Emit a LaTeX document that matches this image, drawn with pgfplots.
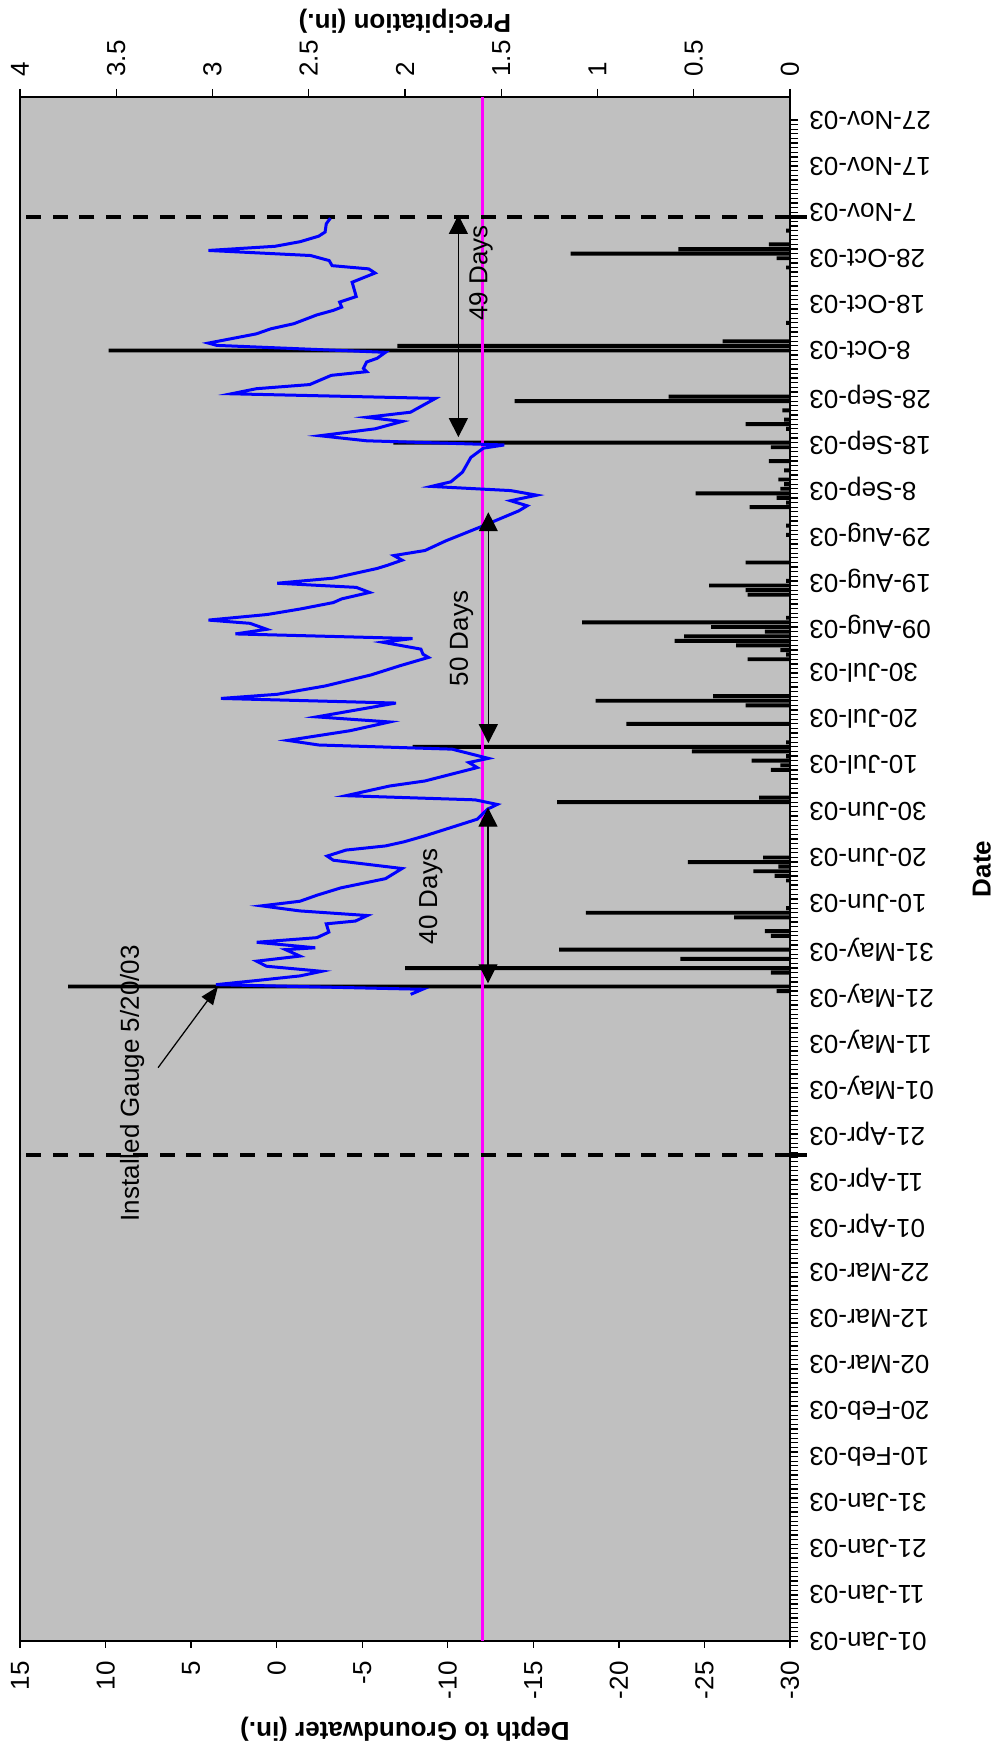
\documentclass[border=0pt]{standalone}
\usepackage{fontspec}
\setmainfont{Liberation Sans}
\usepackage{graphicx}
\usepackage{pgfplots}
\pgfplotsset{compat=1.18}
\usetikzlibrary{arrows.meta}
\definecolor{bg}{RGB}{192,192,192}
\definecolor{mag}{RGB}{255,0,255}
\definecolor{blu}{RGB}{0,0,255}
\newcommand\f{\fontsize{10.4}{12.5}\selectfont}
\begin{document}
\rotatebox{90}{%
\begin{tikzpicture}
\path[use as bounding box] (0,0) rectangle (700pt,400.8pt);
% secondary axis: precipitation bars + date axis
\begin{axis}[
  at={(43.6pt,84.8pt)}, anchor=south west,
  scale only axis, width=617.6pt, height=308pt,
  xmin=0, xmax=335, ymin=0, ymax=4,
  axis background/.style={fill=bg},
  axis x line*=bottom, axis y line*=right,
  axis line style={-, line width=0.5pt},
  xtick={0,10,...,330},
  xticklabels={01-Jan-03,11-Jan-03,21-Jan-03,31-Jan-03,10-Feb-03,20-Feb-03,02-Mar-03,12-Mar-03,22-Mar-03,01-Apr-03,11-Apr-03,21-Apr-03,01-May-03,11-May-03,21-May-03,31-May-03,10-Jun-03,20-Jun-03,30-Jun-03,10-Jul-03,20-Jul-03,30-Jul-03,09-Aug-03,19-Aug-03,29-Aug-03,8-Sep-03,18-Sep-03,28-Sep-03,8-Oct-03,18-Oct-03,28-Oct-03,7-Nov-03,17-Nov-03,27-Nov-03},
  minor x tick num=9,
  ytick={0,0.5,...,4},
  tick align=outside,
  major tick length=3.2pt, minor tick length=3.2pt,
  tick style={black, line width=0.5pt},
  /pgf/number format/assume math mode=true,
  x tick label style={rotate=90, anchor=east, inner sep=0pt, font=\f},
  xticklabel shift=4.4pt,
  y tick label style={inner sep=0pt, font=\f},
  yticklabel shift=4.8pt,
  xlabel={Date}, ylabel={Precipitation (in.)},
  xlabel style={font=\f\bfseries, at={(axis description cs:0.5,-0.249)}, anchor=center},
  ylabel style={font=\f\bfseries, at={(axis description cs:1.0492,0.5)}, anchor=center, rotate=0},
]
\addplot[ybar, bar width=0.85, fill=black, draw=none] coordinates {
(141,0.07) (142,3.75) (145,0.10) (146,2.00) (148,0.57) (150,1.20) (153,0.10) (154,0.13)
(157,0.29) (158,1.06) (159,0.02) (165,0.02) (166,0.08) (167,0.19) (168,0.06) (169,0.53)
(170,0.14) (182,1.21) (183,0.16) (189,0.10) (190,0.05) (191,0.20) (192,0.02) (193,0.51)
(194,1.96) (195,0.02) (199,0.85) (203,0.23) (204,1.01) (205,0.40) (213,0.22) (214,0.02)
(215,0.05) (216,0.28) (217,0.60) (218,0.55) (219,0.13) (220,0.41) (221,1.08) (222,0.02)
(227,0.22) (228,0.23) (229,0.42) (230,0.02) (234,0.23) (240,0.02) (242,0.02) (246,0.21)
(247,0.02) (248,0.07) (249,0.49) (250,0.05) (251,0.03) (252,0.06) (254,0.03) (256,0.11)
(259,0.10) (260,2.06) (263,0.02) (264,0.23) (265,0.03) (267,0.04) (269,1.43) (270,0.63)
(280,3.54) (281,2.04) (282,0.35) (286,0.02) (298,0.02) (300,0.07) (301,1.14) (302,0.58)
(303,0.11) (306,0.02)
};
\end{axis}
% primary axis: depth to groundwater
\begin{axis}[
  at={(43.6pt,84.8pt)}, anchor=south west,
  scale only axis, width=617.6pt, height=308pt,
  xmin=0, xmax=335, ymin=-30, ymax=15,
  axis line style={line width=0.5pt},
  xtick=\empty,
  ytick={-30,-25,...,15}, ytick pos=left,
  tick align=outside, major tick length=2.8pt,
  tick style={black, line width=0.5pt},
  /pgf/number format/assume math mode=true,
  y tick label style={inner sep=0pt, font=\f},
  yticklabel shift=5.2pt,
  ylabel={Depth to Groundwater (in.)},
  ylabel style={font=\f\bfseries, at={(axis description cs:-0.0570,0.5)}, anchor=center},
  clip=false,
]
\addplot[mag, line width=1.2pt] coordinates {(0,-12) (335,-12)};
\addplot[black, line width=1.6pt, dash pattern=on 6pt off 4.7pt] coordinates {(105.4,-30) (105.4,15)};
\addplot[black, line width=1.6pt, dash pattern=on 6pt off 4.7pt] coordinates {(308.9,-30) (308.9,15)};
\addplot[black, line width=1.6pt] coordinates {(105.4,-30) (105.4,-31)};
\addplot[black, line width=1.6pt] coordinates {(308.9,-30) (308.9,-31)};
\addplot[blu, line width=1.2pt] coordinates {
(140.3,-7.83) (141.4,-8.53) (142.4,3.55) (143.3,1.17) (144.3,-1.36) (145.3,-2.63) (146.4,0.6)
(147.5,1.17) (148.6,-1.36) (150.0,-0.52) (150.4,-2.26) (151.6,1.17) (152.6,-2.35) (153.8,-3.05)
(155.6,-2.9) (156.2,-4.6) (157.4,-5.3) (158.4,-1.36) (159.5,0.88) (160.5,-1.36) (161.8,-2.35)
(163.4,-3.75) (165.4,-6.36) (167.6,-7.33) (169.4,-3.31) (170.3,-2.95) (171.6,-4.05) (172.5,-6.36)
(173.4,-7.45) (174.7,-8.67) (177.0,-10.62) (178.3,-11.72) (180.5,-12.33) (181.5,-12.89) (182.5,-11.6)
(183.4,-4.05) (185.5,-6.6) (186.6,-8.67) (189.5,-11.72) (190.6,-11.23) (191.5,-12.37) (193.5,-10.25)
(194.4,-2.46) (195.4,-0.64) (197.5,-4.29) (199.4,-6.6) (200.5,-2.34) (203.5,-6.97) (204.5,3.26)
(205.4,-0.03) (207.2,-2.83) (209.6,-5.51) (211.6,-7.21) (213.4,-8.87) (214.1,-8.55) (215.2,-8.43)
(216.7,-6.19) (217.5,-7.94) (218.5,2.41) (219.5,0.58) (220.8,1.56) (221.5,3.99) (222.7,0.58)
(223.9,-1.37) (225.3,-3.31) (226.1,-3.8) (227.5,-5.43) (228.6,-4.65) (229.5,-0.03) (230.6,-3.31)
(232.7,-5.87) (233.4,-6.48) (234.5,-7.33) (235.5,-6.85) (236.6,-8.67) (238.7,-9.89) (241.6,-11.84)
(245.2,-14.15) (246.3,-14.64) (247.4,-13.67) (248.6,-15.2) (249.6,-13.67) (250.5,-9.04) (251.5,-10.18)
(253.6,-10.86) (256.8,-11.35) (258.8,-12.08) (259.5,-13.3) (260.4,-5.26) (261.5,-2.53) (263.0,-5.75)
(264.6,-7.33) (265.5,-5.26) (266.6,-7.82) (269.6,-9.28) (270.6,2.65) (271.7,1.19) (272.6,-1.93)
(274.6,-3.19) (275.4,-5.26) (276.1,-5.07) (277.5,-5.26) (278.3,-5.87) (279.6,-6.36) (281.1,3.5)
(281.6,3.99) (283.6,1.19) (284.7,0.34) (285.8,-1.0) (287.7,-2.34) (288.7,-3.31) (289.4,-3.8)
(290.5,-3.68) (291.7,-4.65) (294.8,-4.41) (296.8,-5.75) (297.7,-5.38) (298.4,-3.24) (299.5,-3.07)
(300.6,-1.98) (301.7,3.99) (302.6,0.1) (303.6,-1.37) (304.8,-2.46) (305.7,-2.83) (307.5,-2.9)
(308.7,-3.14)
};
\node[font=\f, anchor=center] at (axis cs:121,8.45) {Installed Gauge 5/20/03};
\draw[-{Triangle[length=7.2pt,width=5.6pt]}, line width=0.5pt] (axis cs:124.4,6.93) -- (axis cs:142,3.43);
\draw[{Triangle[length=7.6pt,width=7.6pt]}-{Triangle[length=7.6pt,width=7.6pt]}, line width=0.5pt] (axis cs:142.7,-12.35) -- (axis cs:180.8,-12.35);
\draw[{Triangle[length=7.6pt,width=7.6pt]}-{Triangle[length=7.6pt,width=7.6pt]}, line width=0.5pt] (axis cs:194.8,-12.37) -- (axis cs:244.9,-12.37);
\draw[{Triangle[length=7.6pt,width=7.6pt]}-{Triangle[length=7.6pt,width=7.6pt]}, line width=0.5pt] (axis cs:261.2,-10.62) -- (axis cs:309.4,-10.62);
\node[font=\f, anchor=center] at (axis cs:161.5,-9.0) {40 Days};
\node[font=\f, anchor=center] at (axis cs:217.5,-10.8) {50 Days};
\node[font=\f, anchor=center] at (axis cs:296.8,-11.94) {49 Days};
\end{axis}
\end{tikzpicture}}
\end{document}
